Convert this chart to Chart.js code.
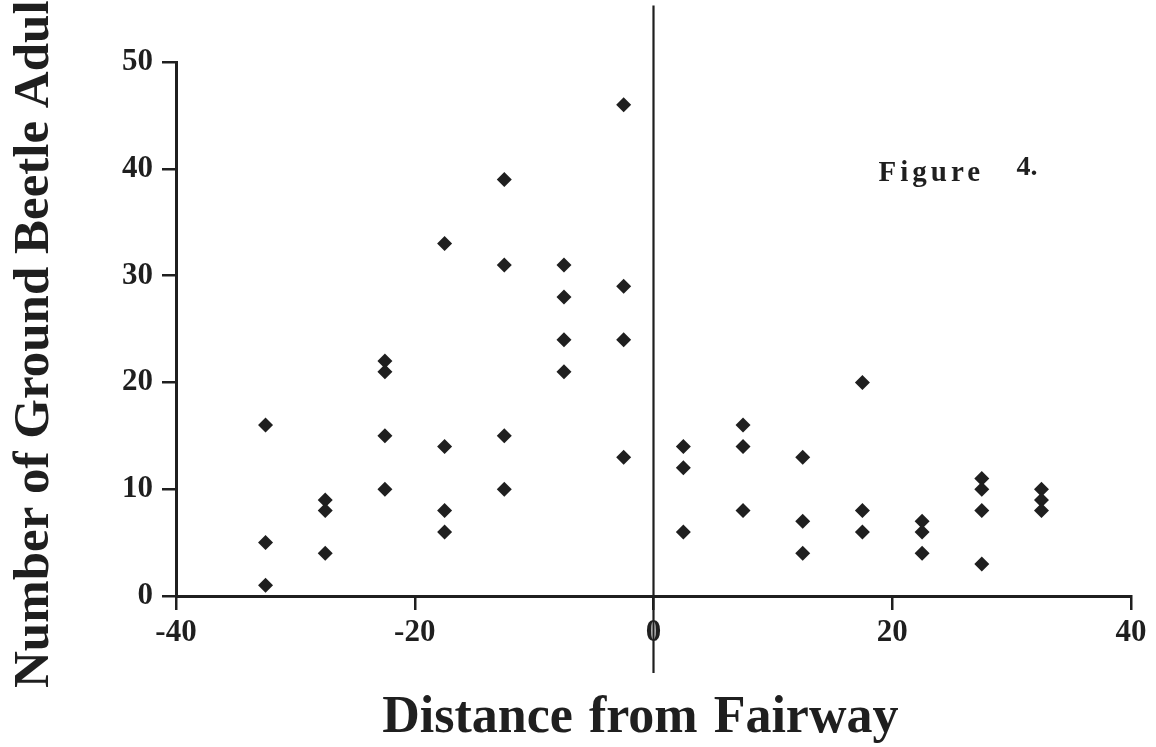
<!DOCTYPE html>
<html>
<head>
<meta charset="utf-8">
<script src="https://cdn.jsdelivr.net/npm/chart.js@4.4.1/dist/chart.umd.min.js"></script>
<style>
  html, body { margin: 0; padding: 0; background: #fff; }
  #wrap { width: 1156px; height: 747px; position: relative; }
</style>
</head>
<body>
<div id="wrap"><canvas id="c" width="1156" height="747"></canvas></div>
<script>
// Distance from fairway (x) for each observation
const distance = [
  -32.5, -32.5, -32.5,
  -27.5, -27.5, -27.5,
  -22.5, -22.5, -22.5, -22.5,
  -17.5, -17.5, -17.5, -17.5,
  -12.5, -12.5, -12.5, -12.5,
  -7.5, -7.5, -7.5, -7.5,
  -2.5, -2.5, -2.5, -2.5,
  2.5, 2.5, 2.5,
  7.5, 7.5, 7.5,
  12.5, 12.5, 12.5,
  17.5, 17.5, 17.5,
  22.5, 22.5, 22.5,
  27.5, 27.5, 27.5, 27.5,
  32.5, 32.5, 32.5
];
// Number of ground beetle adults (y)
const beetles = [
  16, 5, 1,
  9, 8, 4,
  22, 21, 15, 10,
  33, 14, 8, 6,
  39, 31, 15, 10,
  31, 28, 24, 21,
  46, 29, 24, 13,
  14, 12, 6,
  16, 14, 8,
  13, 7, 4,
  20, 8, 6,
  7, 6, 4,
  11, 10, 8, 3,
  10, 9, 8
];
// Fairway edge reference line (x = 0), running past the plot frame
const edgeLineX = [0, 0];
const edgeLineY = [-7.2, 55.3];

const xTicks = [-40, -20, 0, 20, 40];
const yTicks = [0, 10, 20, 30, 40, 50];

const xTitle = 'Distance from Fairway';
const yTitle = 'Number of Ground Beetle Adults';
const figLabel = 'Figure';
const figNum = '4.';

const INK = '#1f1f1f';
const SERIF = '"Liberation Serif", "DejaVu Serif", serif';

const points = distance.map((x, i) => ({ x: x, y: beetles[i] }));
const edgeLine = edgeLineX.map((x, i) => ({ x: x, y: edgeLineY[i] }));

const extraText = {
  id: 'extraText',
  afterDraw(chart) {
    const ctx = chart.ctx;
    const xs = chart.scales.x, ys = chart.scales.y;
    const area = chart.chartArea;
    ctx.save();
    ctx.fillStyle = INK;
    // rotated y-axis title (runs off the top of the figure, as in the original)
    ctx.save();
    ctx.translate(48, 688);
    ctx.rotate(-Math.PI / 2);
    ctx.font = 'bold 51px ' + SERIF;
    ctx.textAlign = 'left';
    ctx.textBaseline = 'alphabetic';
    ctx.fillText(yTitle, 0, 0);
    ctx.restore();
    // x-axis title
    ctx.save();
    ctx.font = 'bold 52px ' + SERIF;
    try { ctx.wordSpacing = '3px'; } catch (e) {}
    ctx.textAlign = 'center';
    ctx.textBaseline = 'alphabetic';
    ctx.fillText(xTitle, xs.getPixelForValue(-1.1), area.bottom + 136);
    ctx.restore();
    // Figure label
    ctx.font = 'bold 29px ' + SERIF;
    ctx.textAlign = 'left';
    ctx.textBaseline = 'alphabetic';
    try { ctx.letterSpacing = '4px'; } catch (e) {}
    ctx.fillText(figLabel, xs.getPixelForValue(18.85), ys.getPixelForValue(38.85));
    try { ctx.letterSpacing = '0px'; } catch (e) {}
    ctx.font = 'bold 28px ' + SERIF;
    ctx.fillText(figNum, xs.getPixelForValue(30.4), ys.getPixelForValue(39.4));
    ctx.restore();
  }
};

new Chart(document.getElementById('c'), {
  type: 'scatter',
  data: {
    datasets: [
      {
        data: points,
        pointStyle: 'rectRot',
        pointRadius: 7.5,
        pointHoverRadius: 7.5,
        backgroundColor: INK,
        borderColor: INK,
        borderWidth: 0,
        showLine: false
      },
      {
        data: edgeLine,
        showLine: true,
        pointRadius: 0,
        borderColor: INK,
        borderWidth: 2.2,
        clip: false,
        fill: false
      }
    ]
  },
  options: {
    responsive: false,
    animation: false,
    events: [],
    layout: { padding: { left: 113, right: 25, top: 62, bottom: 0 } },
    plugins: {
      legend: { display: false },
      tooltip: { enabled: false },
      title: { display: false }
    },
    scales: {
      x: {
        type: 'linear',
        min: -40,
        max: 40,
        afterBuildTicks: (s) => { s.ticks = xTicks.map(v => ({ value: v })); },
        afterFit: (s) => { s.height = 151; },
        ticks: {
          color: INK,
          padding: 4,
          font: { family: SERIF, size: 31, weight: 'bold' },
          callback: (v) => String(v)
        },
        grid: {
          drawOnChartArea: false,
          drawTicks: true,
          tickLength: 14,
          color: INK,
          lineWidth: 2.5
        },
        border: { display: true, color: INK, width: 3 },
        title: { display: false }
      },
      y: {
        type: 'linear',
        min: 0,
        max: 50,
        afterBuildTicks: (s) => { s.ticks = yTicks.map(v => ({ value: v })); },
        ticks: {
          color: INK,
          padding: 9,
          font: { family: SERIF, size: 31, weight: 'bold' },
          callback: (v) => String(v)
        },
        grid: {
          drawOnChartArea: false,
          drawTicks: true,
          tickLength: 14,
          color: INK,
          lineWidth: 2.5
        },
        border: { display: true, color: INK, width: 3 },
        title: { display: false }
      }
    }
  },
  plugins: [extraText]
});
</script>
</body>
</html>
